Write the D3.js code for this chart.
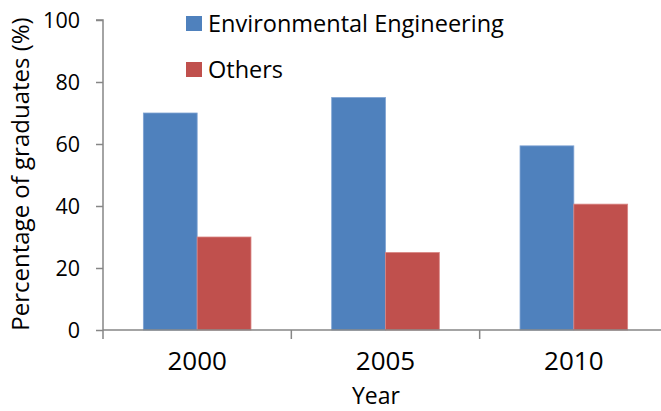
<!DOCTYPE html>
<html><head><meta charset="utf-8">
<script src="https://cdn.jsdelivr.net/npm/d3@7"></script>
<style>body{margin:0;background:#fff}svg{display:block}text{font-family:"Open Sans",sans-serif;fill:#000}</style>
</head><body>
<svg id="c" width="661" height="411"></svg>
<script>
const categories = ["2000","2005","2010"];
const seriesNames = ["Environmental Engineering","Others"];
const envEng = [70, 75, 59.4];
const others = [30, 25, 40.6];
const yTicks = [0,20,40,60,80,100];
const colors = ["#4F81BD","#C0504D"];
const strokes = ["#7FA3D3","#D98583"];

const svg = d3.select("#c");
const m = {l:103, r:668, t:20, b:330};
const x = d3.scaleBand().domain(categories).range([m.l, m.r]);
const y = d3.scaleLinear().domain([0,100]).range([m.b, m.t]);
const barW = x.bandwidth()/(2+1.5);
const xs = d3.scaleBand().domain(seriesNames).range([0, 2*barW]);

const data = [envEng, others];
data.forEach((vals, si) => {
  svg.append("g").selectAll("rect").data(categories).join("rect")
    .attr("x", (c) => x(c) + (x.bandwidth()-2*barW)/2 + xs(seriesNames[si]))
    .attr("width", barW)
    .attr("y", (c,i) => y(vals[i]))
    .attr("height", (c,i) => y(0) - y(vals[i]))
    .attr("fill", colors[si])
    .attr("stroke", strokes[si]).attr("stroke-width", 0.8);
});

// y axis
const ya = svg.append("g").attr("transform", `translate(${m.l},0)`)
  .call(d3.axisLeft(y).tickValues(yTicks).tickSize(7).tickPadding(16));
ya.select(".domain").attr("stroke","#868686").attr("stroke-width",1.5).attr("d", `M-7,${m.t}H0V${m.b}`);
ya.selectAll(".tick line").attr("stroke","#868686").attr("stroke-width",1.5);
ya.selectAll(".tick text").style("font-size","21.5px").attr("dy","0.35em");

// x axis
const xa = svg.append("g").attr("transform", `translate(0,${m.b})`)
  .call(d3.axisBottom(x).tickSize(0).tickPadding(22));
xa.select(".domain").attr("stroke","#868686").attr("stroke-width",1.5).attr("d", `M${m.l},0H${m.r}`);
xa.selectAll(".tick text").style("font-size","26px").attr("dy","0.71em");
const bounds = [m.l].concat(categories.slice(1).map(c => x(c)));
xa.selectAll("line.sep").data(bounds).join("line").attr("class","sep")
  .attr("x1", d=>d).attr("x2", d=>d).attr("y1",0).attr("y2",9)
  .attr("stroke","#868686").attr("stroke-width",1.5);

// axis titles
svg.append("text").attr("x", 376).attr("y", 404).attr("text-anchor","middle")
  .style("font-size","23px").text("Year");
svg.append("text").attr("transform","translate(29,174) rotate(-90)").attr("text-anchor","middle")
  .style("font-size","24px").text("Percentage of graduates (%)");

// legend
const lg = svg.append("g");
seriesNames.forEach((n, i) => {
  const yy = 16 + i*46;
  lg.append("rect").attr("x",186).attr("y",yy).attr("width",16).attr("height",15).attr("fill",colors[i]);
  lg.append("text").attr("x",208).attr("y",yy+16).style("font-size","23.5px").text(n);
});
</script>
</body></html>
